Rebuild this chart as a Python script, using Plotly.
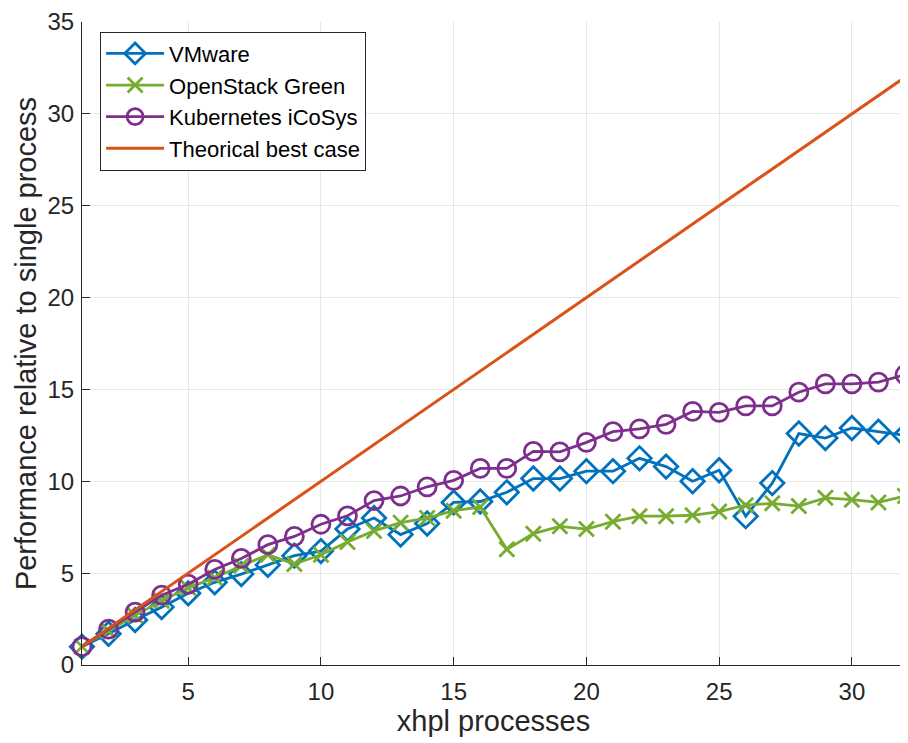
import plotly.graph_objects as go

processes = list(range(1, 33))
vmware = [1.0, 1.7, 2.45, 3.15, 3.9, 4.5, 4.95, 5.45, 5.95, 6.2, 7.4, 8.0, 7.1, 7.7, 8.85, 8.9, 9.4,
          10.15, 10.15, 10.55, 10.55, 11.25, 10.8, 10.0, 10.6, 8.1, 9.9, 12.6, 12.35, 12.9, 12.7, 12.5]
openstack = [1.0, 1.85, 2.7, 3.5, 4.2, 4.75, 5.4, 6.0, 5.5, 6.0, 6.7, 7.3, 7.75, 8.0, 8.4, 8.6, 6.3,
             7.15, 7.55, 7.4, 7.8, 8.1, 8.1, 8.15, 8.35, 8.7, 8.8, 8.65, 9.1, 9.0, 8.85, 9.2]
kubernetes = [1.0, 1.95, 2.88, 3.8, 4.4, 5.2, 5.8, 6.55, 7.0, 7.66, 8.12, 8.95, 9.2, 9.7, 10.05, 10.7, 10.7,
              11.63, 11.6, 12.12, 12.7, 12.85, 13.1, 13.8, 13.75, 14.1, 14.1, 14.85, 15.3, 15.3, 15.4, 15.8]
theoretical = processes

names = ["VMware", "OpenStack Green", "Kubernetes iCoSys", "Theorical best case"]
colors = ["#0072BD", "#77AC30", "#7E2F8E", "#D95319"]

fig = go.Figure()
fig.add_trace(go.Scatter(x=processes, y=vmware, name=names[0], mode="lines+markers", cliponaxis=False,
                         line=dict(color=colors[0], width=2.8),
                         marker=dict(symbol="diamond-open", size=18, line=dict(width=2.8, color=colors[0]))))
fig.add_trace(go.Scatter(x=processes, y=openstack, name=names[1], mode="lines+markers", cliponaxis=False,
                         line=dict(color=colors[1], width=2.8),
                         marker=dict(symbol="x-thin-open", size=15, line=dict(width=2.8, color=colors[1]))))
fig.add_trace(go.Scatter(x=processes, y=kubernetes, name=names[2], mode="lines+markers", cliponaxis=False,
                         line=dict(color=colors[2], width=2.8),
                         marker=dict(symbol="circle-open", size=18, line=dict(width=2.8, color=colors[2]))))
fig.add_trace(go.Scatter(x=processes, y=theoretical, name=names[3], mode="lines", cliponaxis=False,
                         line=dict(color=colors[3], width=3)))

font_family = "Liberation Sans, Arial, Helvetica, sans-serif"
fig.update_layout(
    width=908, height=743,
    margin=dict(l=74, r=11, t=14, b=86),
    plot_bgcolor="white", paper_bgcolor="white",
    font=dict(family=font_family, color="#262626", size=24),
    showlegend=True,
    legend=dict(x=0.022, y=0.985, xanchor="left", yanchor="top",
                bgcolor="white", bordercolor="#262626", borderwidth=1,
                font=dict(size=22, color="black", family=font_family),
                tracegroupgap=0, itemwidth=58),
    xaxis=dict(range=[1, 32], tickvals=[5, 10, 15, 20, 25, 30], showgrid=True,
               gridcolor="#E6E6E6", gridwidth=1, zeroline=False, automargin=False,
               showline=True, linecolor="#262626", linewidth=1,
               ticks="inside", ticklen=8, tickcolor="#262626", ticklabelstandoff=5,
               ticklabeloverflow="allow",
               title=dict(text="xhpl processes", font=dict(size=29), standoff=4),
               tickfont=dict(size=24)),
    yaxis=dict(range=[0, 35], tickvals=[0, 5, 10, 15, 20, 25, 30, 35], showgrid=True,
               gridcolor="#E6E6E6", gridwidth=1, zeroline=False, automargin=False,
               showline=True, linecolor="#262626", linewidth=1,
               ticks="inside", ticklen=8, tickcolor="#262626", ticklabelstandoff=2,
               ticklabeloverflow="allow",
               title=dict(text="Performance relative to single process", font=dict(size=29), standoff=2),
               tickfont=dict(size=24)),
)

fig.write_html("out.html")
